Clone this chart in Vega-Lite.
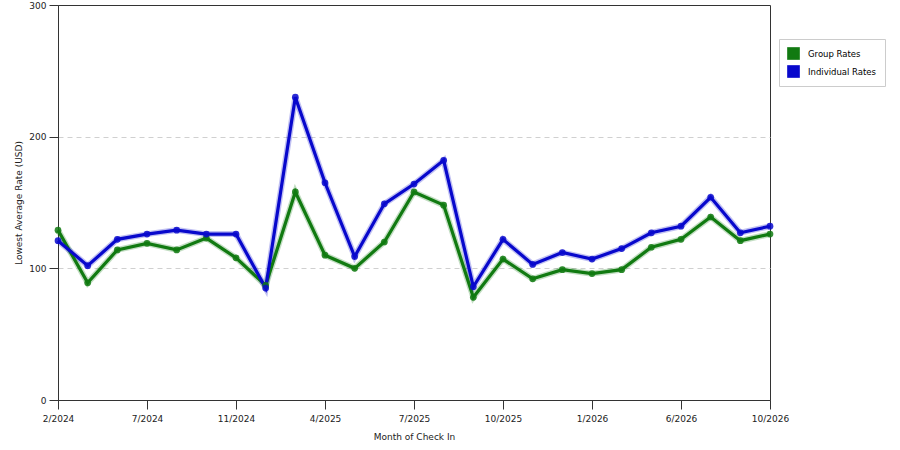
{
  "$schema": "https://vega.github.io/schema/vega-lite/v6.json",
  "autosize": {"type": "none"},
  "width": 712,
  "height": 395,
  "padding": {"left": 58, "top": 5, "right": 130, "bottom": 50},
  "background": "white",
  "config": {
    "font": "DejaVu Sans",
    "view": {"stroke": "#333333", "strokeWidth": 1},
    "axis": {
      "labelFont": "DejaVu Sans",
      "titleFont": "DejaVu Sans",
      "labelFontSize": 9,
      "titleFontSize": 9,
      "titleFontWeight": "normal",
      "labelColor": "#222222",
      "titleColor": "#222222",
      "domainColor": "#333333",
      "tickColor": "#333333"
    },
    "legend": {"labelFont": "DejaVu Sans", "labelFontSize": 9}
  },
  "data": {
    "values": [
      {"month": "2/2024", "series": "Group Rates", "rate": 129},
      {"month": "3/2024", "series": "Group Rates", "rate": 89},
      {"month": "5/2024", "series": "Group Rates", "rate": 114},
      {"month": "7/2024", "series": "Group Rates", "rate": 119},
      {"month": "8/2024", "series": "Group Rates", "rate": 114},
      {"month": "10/2024", "series": "Group Rates", "rate": 123},
      {"month": "11/2024", "series": "Group Rates", "rate": 108},
      {"month": "12/2024", "series": "Group Rates", "rate": 87},
      {"month": "2/2025", "series": "Group Rates", "rate": 158},
      {"month": "4/2025", "series": "Group Rates", "rate": 110},
      {"month": "5/2025", "series": "Group Rates", "rate": 100},
      {"month": "6/2025", "series": "Group Rates", "rate": 120},
      {"month": "7/2025", "series": "Group Rates", "rate": 158},
      {"month": "8/2025", "series": "Group Rates", "rate": 148},
      {"month": "9/2025", "series": "Group Rates", "rate": 78},
      {"month": "10/2025", "series": "Group Rates", "rate": 107},
      {"month": "11/2025", "series": "Group Rates", "rate": 92},
      {"month": "12/2025", "series": "Group Rates", "rate": 99},
      {"month": "1/2026", "series": "Group Rates", "rate": 96},
      {"month": "2/2026", "series": "Group Rates", "rate": 99},
      {"month": "4/2026", "series": "Group Rates", "rate": 116},
      {"month": "6/2026", "series": "Group Rates", "rate": 122},
      {"month": "7/2026", "series": "Group Rates", "rate": 139},
      {"month": "8/2026", "series": "Group Rates", "rate": 121},
      {"month": "10/2026", "series": "Group Rates", "rate": 126},
      {"month": "2/2024", "series": "Individual Rates", "rate": 121},
      {"month": "3/2024", "series": "Individual Rates", "rate": 102},
      {"month": "5/2024", "series": "Individual Rates", "rate": 122},
      {"month": "7/2024", "series": "Individual Rates", "rate": 126},
      {"month": "8/2024", "series": "Individual Rates", "rate": 129},
      {"month": "10/2024", "series": "Individual Rates", "rate": 126},
      {"month": "11/2024", "series": "Individual Rates", "rate": 126},
      {"month": "12/2024", "series": "Individual Rates", "rate": 85},
      {"month": "2/2025", "series": "Individual Rates", "rate": 230},
      {"month": "4/2025", "series": "Individual Rates", "rate": 165},
      {"month": "5/2025", "series": "Individual Rates", "rate": 109},
      {"month": "6/2025", "series": "Individual Rates", "rate": 149},
      {"month": "7/2025", "series": "Individual Rates", "rate": 164},
      {"month": "8/2025", "series": "Individual Rates", "rate": 182},
      {"month": "9/2025", "series": "Individual Rates", "rate": 86},
      {"month": "10/2025", "series": "Individual Rates", "rate": 122},
      {"month": "11/2025", "series": "Individual Rates", "rate": 103},
      {"month": "12/2025", "series": "Individual Rates", "rate": 112},
      {"month": "1/2026", "series": "Individual Rates", "rate": 107},
      {"month": "2/2026", "series": "Individual Rates", "rate": 115},
      {"month": "4/2026", "series": "Individual Rates", "rate": 127},
      {"month": "6/2026", "series": "Individual Rates", "rate": 132},
      {"month": "7/2026", "series": "Individual Rates", "rate": 154},
      {"month": "8/2026", "series": "Individual Rates", "rate": 127},
      {"month": "10/2026", "series": "Individual Rates", "rate": 132}
    ]
  },
  "encoding": {
    "x": {
      "field": "month",
      "type": "ordinal",
      "sort": null,
      "scale": {"type": "point", "padding": 0},
      "title": "Month of Check In",
      "axis": {
        "values": ["2/2024", "7/2024", "11/2024", "4/2025", "7/2025", "10/2025", "1/2026", "6/2026", "10/2026"],
        "labelAngle": 0,
        "tickSize": 9,
        "labelPadding": 5,
        "titlePadding": 9,
        "grid": false
      }
    },
    "y": {
      "field": "rate",
      "type": "quantitative",
      "scale": {"domain": [0, 300], "nice": false},
      "title": "Lowest Average Rate (USD)",
      "axis": {
        "values": [0, 100, 200, 300],
        "tickSize": 9,
        "labelPadding": 3,
        "titlePadding": 5,
        "grid": true,
        "gridColor": {
          "condition": {"test": "datum.value == 0 || datum.value == 300", "value": "transparent"},
          "value": "#d0d0d0"
        },
        "gridDash": [5, 4]
      }
    },
    "color": {
      "field": "series",
      "type": "nominal",
      "scale": {"domain": ["Group Rates", "Individual Rates"], "range": ["#117a11", "#0808cc"]},
      "legend": {
        "title": null,
        "orient": "none",
        "legendX": 721,
        "legendY": 34,
        "symbolType": "square",
        "symbolSize": 160,
        "symbolStrokeWidth": 0,
        "symbolOpacity": 1,
        "rowPadding": 5,
        "labelOffset": 8,
        "labelFontSize": 8.5,
        "strokeColor": "#cccccc",
        "fillColor": "white",
        "padding": 8
      }
    }
  },
  "layer": [
    {
      "mark": {"type": "line", "strokeWidth": 6, "opacity": 0.25},
      "encoding": {}
    },
    {
      "mark": {"type": "line", "strokeWidth": 3.2},
      "encoding": {}
    },
    {
      "mark": {"type": "point", "filled": true, "size": 45, "opacity": 0.85},
      "encoding": {}
    }
  ]
}
